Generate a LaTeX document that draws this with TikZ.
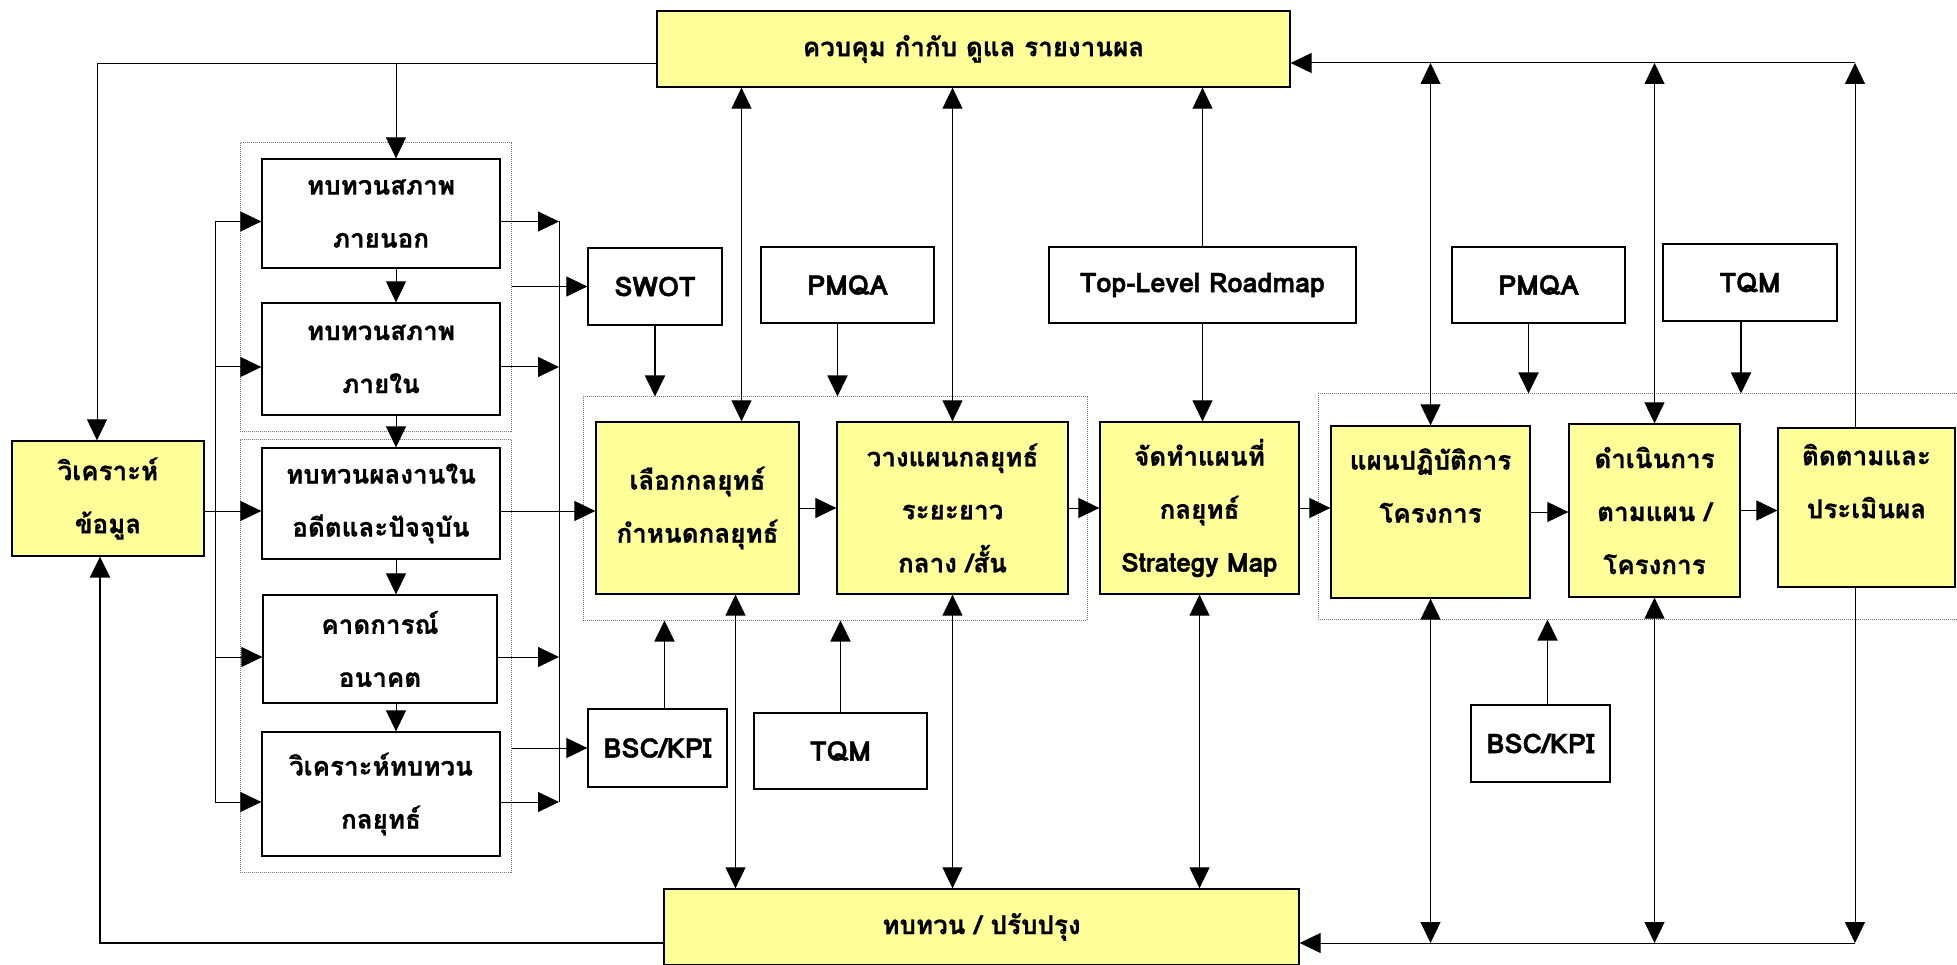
\documentclass[tikz,border=0pt]{standalone}
\usepackage{fontspec}
\setmainfont[Script=Thai, FakeBold=0.8]{Loma}
\newfontfamily\tagfont[Script=Thai, FakeBold=1.5]{Loma}
\usetikzlibrary{arrows.meta}
\definecolor{boxyellow}{RGB}{255,255,153}
\tikzset{
  box/.style={draw, line width=1.3pt, align=center, inner sep=2pt, font=\fontsize{26}{53}\selectfont\bfseries},
  ybox/.style={box, fill=boxyellow},
  tag/.style={box, font=\tagfont\fontsize{27}{30}\selectfont\bfseries},
  group/.style={draw=black!55, densely dotted, line width=1pt},
  arr/.style={-{Triangle[length=21pt,width=20pt]}, line width=1pt},
  darr/.style={{Triangle[length=21pt,width=20pt]}-{Triangle[length=21pt,width=20pt]}, line width=1pt},
  farr/.style={arr, line width=1.8pt},
}
\begin{document}
\begin{tikzpicture}[x=1pt,y=-1pt]
\useasboundingbox (0,0) rectangle (1957,965);

\node[group, minimum width=271pt, minimum height=288pt] (g1) at (375.5,287) {};
\node[group, minimum width=271pt, minimum height=433pt] (g2) at (375.5,655.5) {};
\node[group, minimum width=504pt, minimum height=223pt] (g3) at (835,508.5) {};
\node[group, minimum width=672pt, minimum height=225pt] (g4) at (1654,506.5) {};

\node[ybox, minimum width=633pt, minimum height=76pt] (ctrl) at (973.5,49) {ควบคุม กำกับ ดูแล รายงานผล};
\node[ybox, minimum width=635pt, minimum height=76pt] (review) at (981.5,927) {ทบทวน / ปรับปรุง};
\node[ybox, minimum width=192pt, minimum height=115pt] (analyze) at (108,498.5) {วิเคราะห์\\ข้อมูล};

\node[box, minimum width=238pt, minimum height=109pt] (ext) at (381,213.5) {ทบทวนสภาพ\\ภายนอก};
\node[box, minimum width=238pt, minimum height=112pt] (int) at (381,359) {ทบทวนสภาพ\\ภายใน};
\node[box, minimum width=238pt, minimum height=111pt] (past) at (381,503.5) {ทบทวนผลงานใน\\อดีตและปัจจุบัน};
\node[box, minimum width=234pt, minimum height=108pt] (fut) at (380,649) {คาดการณ์\\อนาคต};
\node[box, minimum width=238pt, minimum height=124pt] (strat) at (381,794) {วิเคราะห์ทบทวน\\กลยุทธ์};

\node[tag, minimum width=134pt, minimum height=77pt] (swot) at (655,286.5) {SWOT};
\node[tag, minimum width=173pt, minimum height=76pt] (pmqaA) at (847.5,285) {PMQA};
\node[tag, line width=2.4pt, minimum width=307pt, minimum height=76pt] (roadmap) at (1202.5,285) {Top-Level Roadmap};
\node[tag, minimum width=139pt, minimum height=78pt] (bscA) at (657.5,748) {BSC/KPI};
\node[tag, minimum width=173pt, minimum height=76pt] (tqmA) at (840.5,751) {TQM};
\node[tag, minimum width=173pt, minimum height=76pt] (pmqaB) at (1538.5,285) {PMQA};
\node[tag, minimum width=174pt, minimum height=77pt] (tqmB) at (1750,282.5) {TQM};
\node[tag, minimum width=139pt, minimum height=77pt] (bscB) at (1540.5,743.5) {BSC/KPI};

\node[ybox, minimum width=203pt, minimum height=172pt] (choose) at (697.5,508) {เลือกกลยุทธ์\\กำหนดกลยุทธ์};
\node[ybox, minimum width=231pt, minimum height=172pt] (plan) at (952.5,508) {วางแผนกลยุทธ์\\ระยะยาว\\กลาง /สั้น};
\node[ybox, minimum width=199pt, minimum height=172pt] (smap) at (1199.5,508) {จัดทำแผนที่\\กลยุทธ์\\{\tagfont\bfseries Strategy Map}};
\node[ybox, minimum width=199pt, minimum height=172pt] (action) at (1430.5,512) {แผนปฏิบัติการ\\โครงการ\\~};
\node[ybox, minimum width=171pt, minimum height=173pt] (execute) at (1654.5,510.5) {ดำเนินการ\\ตามแผน /\\โครงการ};
\node[ybox, minimum width=177pt, minimum height=159pt] (monitor) at (1866.5,507.5) {ติดตามและ\\ประเมินผล\\~};

\coordinate (tl) at (97,63);
\coordinate (vc) at (396,63);
\coordinate (tr) at (1855,63);
\coordinate (bl) at (100,943);
\coordinate (br) at (1855,943);
\coordinate (lbus) at (215,0);
\coordinate (rbus) at (559,0);
\coordinate (pastin) at (0,511);

\draw (ctrl.west |- tl) -- (tl);
\draw[arr] (tl) -- (tl |- analyze.north);
\draw[arr] (vc) -- (vc |- ext.north);
\draw[arr] (tr) -- (ctrl.east |- tr);
\draw[arr] (monitor.north -| tr) -- (tr);
\draw[arr] (monitor.south -| br) -- (br);
\draw[arr] (br) -- (review.east |- br);
\draw[darr] (action.north |- tr) -- (action.north);
\draw[darr] (execute.north |- tr) -- (execute.north);
\draw[darr] (action.south) -- (action.south |- br);
\draw[darr] (execute.south) -- (execute.south |- br);
\draw[arr, line width=2.4pt] (review.west |- bl) -- (bl) -- (analyze.south -| bl);

\draw[darr] ([xshift=44pt]choose.north) -- ([xshift=44pt]choose.north |- ctrl.south);
\draw[darr] ([xshift=38pt]choose.south) -- ([xshift=38pt]choose.south |- review.north);
\draw[darr] (plan.north) -- (plan.north |- ctrl.south);
\draw[darr] (plan.south) -- (plan.south |- review.north);
\draw[arr] (roadmap.north) -- (roadmap.north |- ctrl.south);
\draw[arr] (roadmap.south) -- (roadmap.south |- smap.north);
\draw[darr] (smap.south) -- (smap.south |- review.north);

\draw[arr] (choose.east) -- (plan.west);
\draw[arr] (plan.east) -- (smap.west);
\draw[arr] (smap.east) -- (smap.east -| action.west);
\draw[arr] (action.east) -- (action.east -| execute.west);
\draw[arr] (execute.east) -- (execute.east -| monitor.west);

\draw[farr] (swot.south) -- (swot.south |- g3.north);
\draw[farr] ([xshift=-10pt]pmqaA.south) -- ([xshift=-10pt]pmqaA.south |- g3.north);
\draw[farr] ([xshift=7pt]bscA.north) -- ([xshift=7pt]bscA.north |- g3.south);
\draw[farr] (tqmA.north) -- (tqmA.north |- g3.south);
\draw[farr] ([xshift=-10pt]pmqaB.south) -- ([xshift=-10pt]pmqaB.south |- g4.north);
\draw[farr] ([xshift=-9pt]tqmB.south) -- ([xshift=-9pt]tqmB.south |- g4.north);
\draw[farr] ([xshift=7pt]bscB.north) -- ([xshift=7pt]bscB.north |- g4.south);

\foreach \b in {ext,int,fut,strat} {
  \draw[arr] ([yshift=-8pt]\b.west -| lbus) -- ([yshift=-8pt]\b.west);
  \draw[arr] ([yshift=-8pt]\b.east) -- ([yshift=-8pt]\b.east -| rbus);
}
\draw ([yshift=-8pt]ext.west -| lbus) -- ([yshift=-8pt]strat.west -| lbus);
\draw ([yshift=-8pt]ext.east -| rbus) -- ([yshift=-8pt]strat.east -| rbus);
\draw[arr] (analyze.east |- pastin) -- (past.west |- pastin);
\draw[arr] (past.east |- pastin) -- (choose.west |- pastin);
\draw[arr] (g1.east |- swot.west) -- (swot.west);
\draw[arr] (g2.east |- bscA.west) -- (bscA.west);

\foreach \a/\b in {ext/int,int/past,past/fut,fut/strat}
  \draw[arr] (\a.south -| vc) -- (\b.north -| vc);
\end{tikzpicture}
\end{document}
